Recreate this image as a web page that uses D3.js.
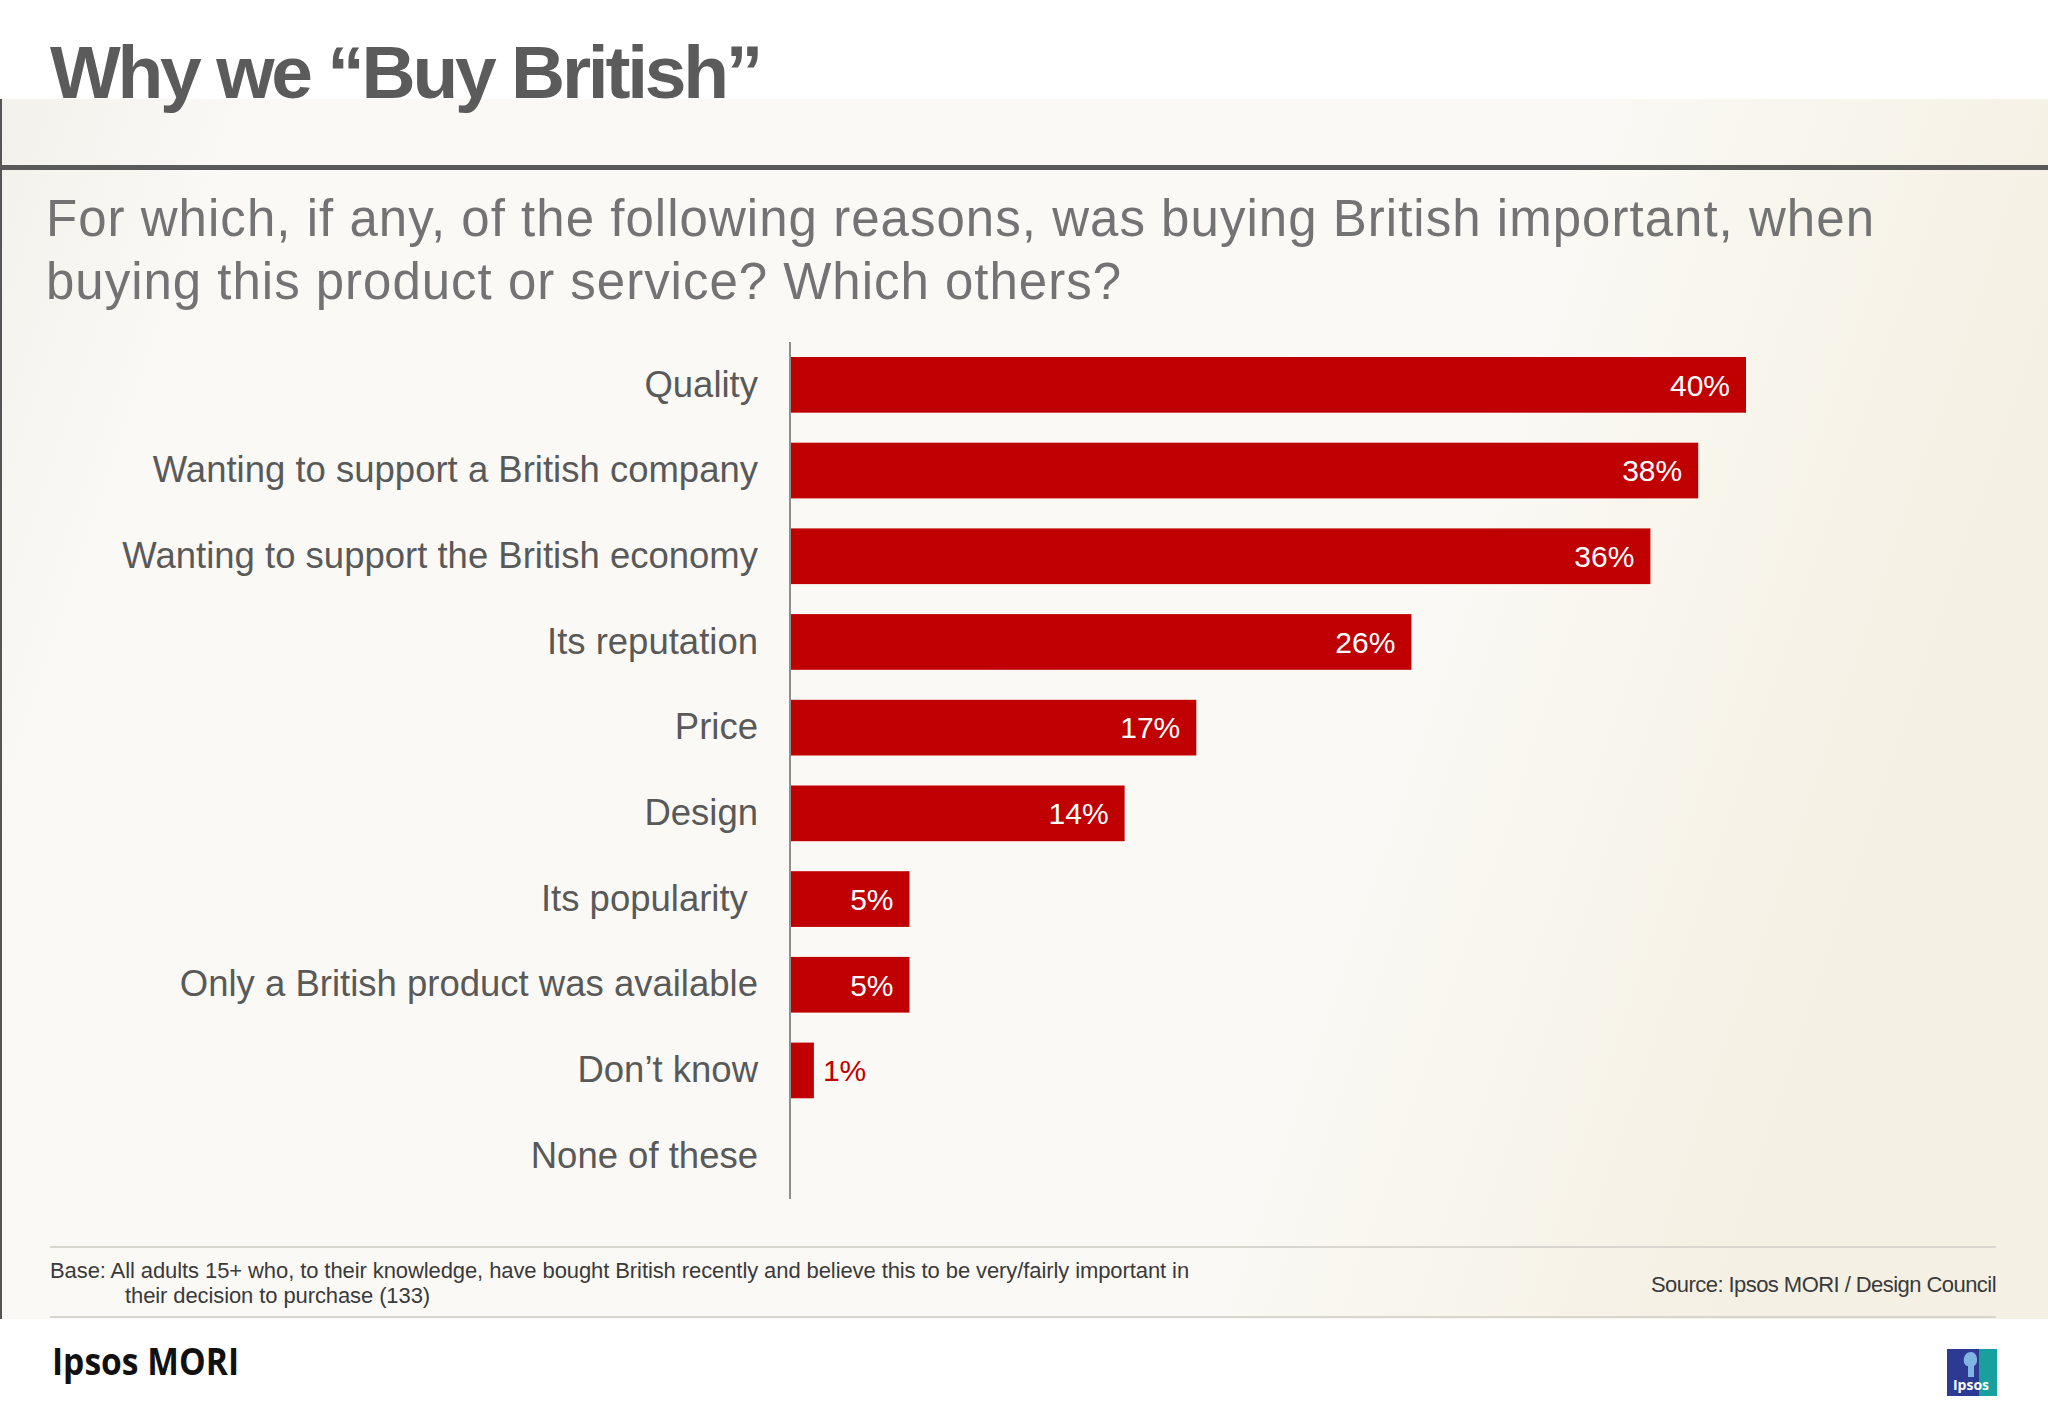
<!DOCTYPE html>
<html><head><meta charset="utf-8">
<script src="https://cdn.jsdelivr.net/npm/d3@7/dist/d3.min.js"></script>
<style>html,body{margin:0;padding:0;background:#fff;}svg{display:block;}</style>
</head><body>
<script>
const categories = ["Quality","Wanting to support a British company","Wanting to support the British economy","Its reputation","Price","Design","Its popularity ","Only a British product was available","Don\u2019t know","None of these"];
const values = [40,38,36,26,17,14,5,5,1,null];
const valueLabels = ["40%","38%","36%","26%","17%","14%","5%","5%","1%",""];
const titleText = "Why we \u201cBuy British\u201d";
const subtitleLines = ["For which, if any, of the following reasons, was buying British important, when","buying this product or service? Which others?"];
const baseLines = ["Base: All adults 15+  who, to their knowledge, have bought British recently and believe this to be very/fairly important in","their decision to purchase (133)"];
const sourceText = "Source: Ipsos MORI / Design Council";

const W = 2048, H = 1418;
const svg = d3.select("body").append("svg").attr("width", W).attr("height", H);
const defs = svg.append("defs");
const g1 = defs.append("linearGradient").attr("id","bg").attr("x1","0").attr("x2","1").attr("y1","0").attr("y2","0.2");
g1.append("stop").attr("offset","0").attr("stop-color","#f3f1eb");
g1.append("stop").attr("offset","0.12").attr("stop-color","#faf9f6");
g1.append("stop").attr("offset","0.75").attr("stop-color","#fbf9f5");
g1.append("stop").attr("offset","1").attr("stop-color","#f4f0e3");

svg.append("rect").attr("width",W).attr("height",H).attr("fill","#fff");
svg.append("rect").attr("x",0).attr("y",99).attr("width",W).attr("height",1220).attr("fill","url(#bg)");
svg.append("rect").attr("x",0).attr("y",99).attr("width",2).attr("height",1220).attr("fill","#555");
svg.append("rect").attr("x",0).attr("y",165).attr("width",W).attr("height",5).attr("fill","#5a5a5a");

function fit(sel, target){
  const n = sel.text().length;
  const len = sel.node().getComputedTextLength();
  sel.attr("letter-spacing", ((target - len) / n).toFixed(3));
}

const title = svg.append("text").attr("x",50).attr("y",98)
  .attr("font-family","Liberation Sans, Arial, sans-serif").attr("font-weight","bold")
  .attr("font-size",75).attr("fill","#5b5b5b").text(titleText);
fit(title, 710);

subtitleLines.forEach((t,i)=>{
  const s = svg.append("text").attr("x",46).attr("y",236+i*63)
    .attr("font-family","Liberation Sans, Arial, sans-serif")
    .attr("font-size",51).attr("fill","#737373").text(t);
  if(i===0) fit(s, 1829);
  else fit(s, 1076);
});

const x = d3.scaleLinear().domain([0,40]).range([790,1746]);
const y = d3.scaleBand().domain(categories).range([342,1199]).paddingInner(0.35).paddingOuter(0.175);

const rows = categories.map((c,i)=>({c,v:values[i],l:valueLabels[i]})).filter(d=>d.v!=null);
const chart = svg.append("g");
chart.selectAll("rect.bar").data(rows)
  .enter().append("rect").attr("class","bar")
  .attr("x",x(0)).attr("y",d=>y(d.c)).attr("width",d=>x(d.v)-x(0)).attr("height",y.bandwidth())
  .attr("fill","#c00000");

chart.selectAll("text.val").data(rows)
  .enter().append("text").attr("class","val")
  .attr("x",d=> d.v>=3 ? x(d.v)-16 : x(d.v)+9)
  .attr("y",d=>y(d.c)+y.bandwidth()/2)
  .attr("dy","0.36em")
  .attr("text-anchor",d=> d.v>=3 ? "end":"start")
  .attr("font-family","Liberation Sans, Arial, sans-serif").attr("font-size",30)
  .attr("fill",d=> d.v>=3 ? "#fff":"#c00000")
  .text(d=>d.l);

const yAxis = d3.axisLeft(y).tickSize(0).tickPadding(32);
const ax = svg.append("g").attr("transform","translate(790,0)").call(yAxis);
ax.select(".domain").remove();
ax.selectAll("text").attr("font-family","Liberation Sans, Arial, sans-serif").attr("font-size",36.5)
  .attr("fill","#595959").style("white-space","pre");
svg.append("line").attr("x1",790).attr("x2",790).attr("y1",342).attr("y2",1199).attr("stroke","#8f8f8f").attr("stroke-width",2);

// footer
svg.append("line").attr("x1",50).attr("x2",1996).attr("y1",1247).attr("y2",1247).attr("stroke","#d9d6cf").attr("stroke-width",2);
svg.append("line").attr("x1",50).attr("x2",1996).attr("y1",1317).attr("y2",1317).attr("stroke","#d9d6cf").attr("stroke-width",2);
const b1 = svg.append("text").attr("x",50).attr("y",1278).attr("font-family","Liberation Sans, Arial, sans-serif")
  .attr("font-size",22).attr("fill","#3a3a3a").text(baseLines[0]);
fit(b1, 1139);
const b2 = svg.append("text").attr("x",125).attr("y",1303).attr("font-family","Liberation Sans, Arial, sans-serif")
  .attr("font-size",22).attr("fill","#3a3a3a").text(baseLines[1]);
fit(b2, 305);
const src = svg.append("text").attr("x",1651).attr("y",1292).attr("font-family","Liberation Sans, Arial, sans-serif")
  .attr("font-size",22).attr("fill","#3a3a3a").text(sourceText);
fit(src, 345);

svg.append("text").attr("x",52).attr("y",1375).attr("font-family","Open Sans, sans-serif").attr("font-weight","bold")
  .attr("font-size",38).attr("fill","#111").attr("textLength",187).attr("lengthAdjust","spacingAndGlyphs").text("Ipsos MORI");

// Ipsos logo
const lg = svg.append("g");
lg.append("rect").attr("x",1947).attr("y",1349).attr("width",50).attr("height",47).attr("fill","#17a09d");
lg.append("rect").attr("x",1947).attr("y",1349).attr("width",32).attr("height",47).attr("fill","#2c3a94");
lg.append("path").attr("d","M1968,1377 L1968,1366 C1962,1366 1962,1352 1971,1352 C1978,1352 1979,1364 1974,1366 L1974,1377 Z").attr("fill","#7fb5e0");
lg.append("text").attr("x",1971).attr("y",1390).attr("text-anchor","middle").attr("font-family","Open Sans, sans-serif")
  .attr("font-weight","bold").attr("font-size",14).attr("fill","#fff").text("Ipsos");
</script>
</body></html>
